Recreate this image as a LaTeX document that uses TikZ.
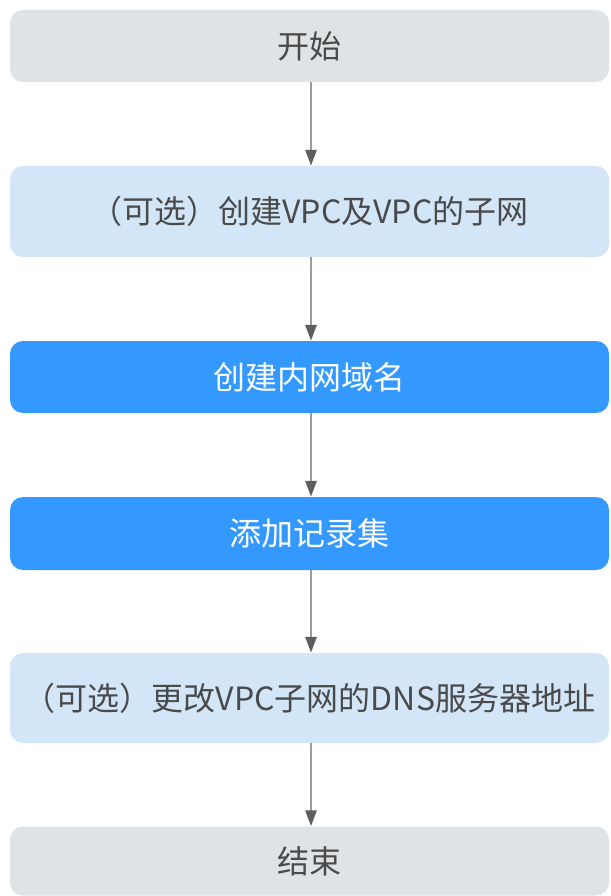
\documentclass[tikz,border=0pt]{standalone}
\usepackage{fontspec}
\setmainfont{Noto Sans CJK SC}
\usetikzlibrary{arrows.meta}
\definecolor{gbox}{HTML}{DFE3E5}
\definecolor{lbbox}{HTML}{D2E6F8}
\definecolor{bbox}{HTML}{3399FF}
\definecolor{txt}{HTML}{4A4A4A}
\definecolor{lineg}{HTML}{9C9C9C}
\definecolor{headg}{HTML}{5E5E5E}
\tikzset{
  flowbox/.style={rounded corners=13pt, minimum width=599pt, inner sep=0pt, font=\fontsize{32pt}{35pt}\selectfont, text=txt},
  graybox/.style={flowbox, fill=gbox},
  lightbox/.style={flowbox, fill=lbbox},
  bluebox/.style={flowbox, fill=bbox, text=white},
  flowarrow/.style={draw=lineg, line width=2.8pt, -{Triangle[length=16pt, width=11pt, color=headg]}, shorten >=0pt}
}
\begin{document}
\begin{tikzpicture}[x=1pt, y=-1pt]
\useasboundingbox (0,0) rectangle (610,896);
\node[graybox, minimum height=72pt] (n1) at (309.5,46) {开始};
\node[lightbox, minimum height=91pt] (n2) at (309.5,211.5) {（可选）创建VPC及VPC的子网};
\node[bluebox, minimum height=72pt] (n3) at (309.5,377) {创建内网域名};
\node[bluebox, minimum height=73pt] (n4) at (309.5,533.5) {添加记录集};
\node[lightbox, minimum height=90pt] (n5) at (309.5,698) {（可选）更改VPC子网的DNS服务器地址};
\node[graybox, minimum height=69pt] (n6) at (309.5,861) {结束};
\draw[flowarrow] (n1.south -| 311,0) -- (n2.north -| 311,0);
\draw[flowarrow] (n2.south -| 311,0) -- (n3.north -| 311,0);
\draw[flowarrow] (n3.south -| 311,0) -- (n4.north -| 311,0);
\draw[flowarrow] (n4.south -| 311,0) -- (n5.north -| 311,0);
\draw[flowarrow] (n5.south -| 311,0) -- (n6.north -| 311,0);
\end{tikzpicture}
\end{document}
